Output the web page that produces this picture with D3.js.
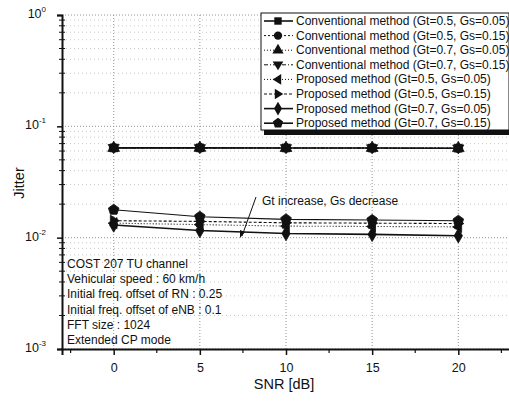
<!DOCTYPE html>
<html><head><meta charset="utf-8">
<script src="https://cdn.jsdelivr.net/npm/d3@7"></script>
<style>body{margin:0;background:#fff}svg{display:block}text{font-family:Arial,"Liberation Sans",sans-serif;fill:#111}</style>
</head><body><svg id="c" width="509" height="403"></svg>
<script>
const snr = [0, 5, 10, 15, 20];
const seriesNames = [
  "Conventional method (Gt=0.5, Gs=0.05)",
  "Conventional method (Gt=0.5, Gs=0.15)",
  "Conventional method (Gt=0.7, Gs=0.05)",
  "Conventional method (Gt=0.7, Gs=0.15)",
  "Proposed method (Gt=0.5, Gs=0.05)",
  "Proposed method (Gt=0.5, Gs=0.15)",
  "Proposed method (Gt=0.7, Gs=0.05)",
  "Proposed method (Gt=0.7, Gs=0.15)"
];
const conv1 = [0.0640, 0.0641, 0.0639, 0.0638, 0.0636];
const conv2 = [0.0641, 0.0640, 0.0640, 0.0638, 0.0637];
const conv3 = [0.0639, 0.0640, 0.0638, 0.0639, 0.0636];
const conv4 = [0.0640, 0.0639, 0.0639, 0.0637, 0.0635];
const prop1 = [0.0135, 0.0131, 0.0127, 0.0126, 0.0125];
const prop2 = [0.0142, 0.0140, 0.0136, 0.0135, 0.0134];
const prop3 = [0.0130, 0.0116, 0.0109, 0.0107, 0.0104];
const prop4 = [0.0178, 0.0154, 0.0146, 0.0144, 0.0142];
const xTicks = [0, 5, 10, 15, 20];
const yTicks = [1e-3, 1e-2, 1e-1, 1];
const yExps = ["-3", "-2", "-1", "0"];
const infoLines = ["COST 207 TU channel", "Vehicular speed : 60 km/h", "Initial freq. offset of RN : 0.25", "Initial freq. offset of eNB : 0.1", "FFT size : 1024", "Extended CP mode"];
const annotation = "Gt increase, Gs decrease";

const allSeries = [conv1, conv2, conv3, conv4, prop1, prop2, prop3, prop4];
const symbols = [d3.symbolSquare, d3.symbolCircle, d3.symbolTriangle, "tdown", "tleft", "tright", d3.symbolDiamond, "pent"];
const dashes = [null, "2,2", "1,2", "4,2,1,2", "1,2", "3,2", null, null];

const svg = d3.select("#c");
const x = d3.scaleLinear().domain([-3, 23]).range([62, 510]);
const y = d3.scaleLog().domain([1e-3, 1]).range([349, 15]);

// grid
const g = svg.append("g");
const minor = [];
for (let e = -3; e < 0; e++) for (let m = 2; m <= 9; m++) minor.push(m * Math.pow(10, e));
g.selectAll(".ym").data(minor).join("line")
  .attr("x1", 62).attr("x2", 509).attr("y1", d => y(d)).attr("y2", d => y(d))
  .attr("stroke", "#bbb").attr("stroke-width", 0.8).attr("stroke-dasharray", "1,3");
g.selectAll(".yM").data(yTicks).join("line")
  .attr("x1", 62).attr("x2", 509).attr("y1", d => y(d)).attr("y2", d => y(d))
  .attr("stroke", "#888").attr("stroke-width", 0.9).attr("stroke-dasharray", "1,2");
g.selectAll(".xg").data(xTicks).join("line")
  .attr("x1", d => x(d)).attr("x2", d => x(d)).attr("y1", 15).attr("y2", 349)
  .attr("stroke", "#888").attr("stroke-width", 0.9).attr("stroke-dasharray", "1,2");

// axes
const xAxis = d3.axisBottom(x).tickValues(xTicks).tickSize(6).tickFormat(d3.format("d"));
const xa = svg.append("g").attr("transform", "translate(0,349)").call(xAxis);
xa.select(".domain").attr("stroke", "#111").attr("stroke-width", 2);
xa.selectAll(".tick line").attr("stroke", "#111").attr("stroke-width", 1.5);
xa.selectAll(".tick text").attr("font-size", 12.5).attr("dy", "1.1em").style("font-family", "Arial");
const xMinor = [-2.5, 2.5, 7.5, 12.5, 17.5, 22.5];
svg.selectAll(".xmin").data(xMinor).join("line")
  .attr("x1", d => x(d)).attr("x2", d => x(d)).attr("y1", 349).attr("y2", 353)
  .attr("stroke", "#111").attr("stroke-width", 1.2);

const yAxis = d3.axisLeft(y).tickValues(yTicks).tickSize(5).tickFormat("");
const ya = svg.append("g").attr("transform", "translate(62,0)").call(yAxis);
ya.select(".domain").attr("stroke", "#111").attr("stroke-width", 2);
ya.selectAll(".tick line").attr("stroke", "#111").attr("stroke-width", 1.5);
svg.selectAll(".ymin").data(minor).join("line")
  .attr("x1", 59).attr("x2", 65).attr("y1", d => y(d)).attr("y2", d => y(d))
  .attr("stroke", "#111").attr("stroke-width", 1);
const yl = svg.selectAll(".ylab").data(yTicks).join("text")
  .attr("x", 46).attr("y", d => y(d) + 3).attr("text-anchor", "end").attr("font-size", 12.5);
yl.text("10");
yl.append("tspan").attr("dy", -6).attr("font-size", 8).text((d, i) => yExps[i]);

svg.append("text").attr("x", 284).attr("y", 389).attr("text-anchor", "middle").attr("font-size", 14.5).text("SNR [dB]");
svg.append("text").attr("transform", "translate(24,183) rotate(-90)").attr("text-anchor", "middle").attr("font-size", 14.5).text("Jitter");

// marker generator
function markerPath(s, size) {
  if (typeof s !== "string") return d3.symbol().type(s).size(size)();
  const r = Math.sqrt(size) * 0.72;
  let pts;
  if (s === "tdown") pts = [[-r, -r * 0.6], [r, -r * 0.6], [0, r]];
  if (s === "tleft") pts = [[r * 0.6, -r], [r * 0.6, r], [-r, 0]];
  if (s === "tright") pts = [[-r * 0.6, -r], [-r * 0.6, r], [r, 0]];
  if (s === "pent") pts = d3.range(5).map(i => { const a = -Math.PI / 2 + i * 2 * Math.PI / 5; return [r * Math.cos(a), r * Math.sin(a)]; });
  return "M" + pts.map(p => p.join(",")).join("L") + "Z";
}

// lines
const line = d3.line().x((d, i) => x(snr[i])).y(d => y(d));
allSeries.forEach((s, k) => {
  svg.append("path").attr("d", line(s)).attr("fill", "none").attr("stroke", "#111")
    .attr("stroke-width", k === 0 || k === 6 ? 1.6 : 1.1).attr("stroke-dasharray", dashes[k]);
});
allSeries.forEach((s, k) => {
  svg.selectAll(".m" + k).data(s).join("path")
    .attr("transform", (d, i) => `translate(${x(snr[i])},${y(d)})`)
    .attr("d", markerPath(symbols[k], 60)).attr("fill", "#111").attr("stroke", "#111").attr("stroke-width", 0.8);
});

// annotation
svg.append("text").attr("x", 262).attr("y", 205).attr("font-size", 12).text(annotation);
svg.append("line").attr("x1", 256).attr("y1", 197).attr("x2", 242).attr("y2", 236).attr("stroke", "#111").attr("stroke-width", 1);
svg.append("path").attr("d", "M240,238 L240,230 L245,232 Z").attr("fill", "#111");

// info block
svg.selectAll(".info").data(infoLines).join("text")
  .attr("x", 67).attr("y", (d, i) => 268 + i * 15.2).attr("font-size", 12).text(d => d);

// legend
const lx = 261, ly = 13, lw = 248, lh = 117;
svg.append("rect").attr("x", lx + 3).attr("y", ly + lh).attr("width", lw).attr("height", 5).attr("fill", "#111");
svg.append("rect").attr("x", lx).attr("y", ly).attr("width", lw).attr("height", lh).attr("fill", "#fff").attr("stroke", "#111").attr("stroke-width", 1);
seriesNames.forEach((n, k) => {
  const cy = ly + 8 + k * 14.6;
  svg.append("line").attr("x1", lx + 3).attr("x2", lx + 32).attr("y1", cy).attr("y2", cy)
    .attr("stroke", "#111").attr("stroke-width", k === 0 || k === 6 || k === 7 ? 1.6 : 1).attr("stroke-dasharray", dashes[k]);
  svg.append("path").attr("transform", `translate(${lx + 17},${cy})`).attr("d", markerPath(symbols[k], 55)).attr("fill", "#111");
  svg.append("text").attr("x", lx + 35).attr("y", cy + 4).attr("font-size", 12).text(n);
});
</script></body></html>
